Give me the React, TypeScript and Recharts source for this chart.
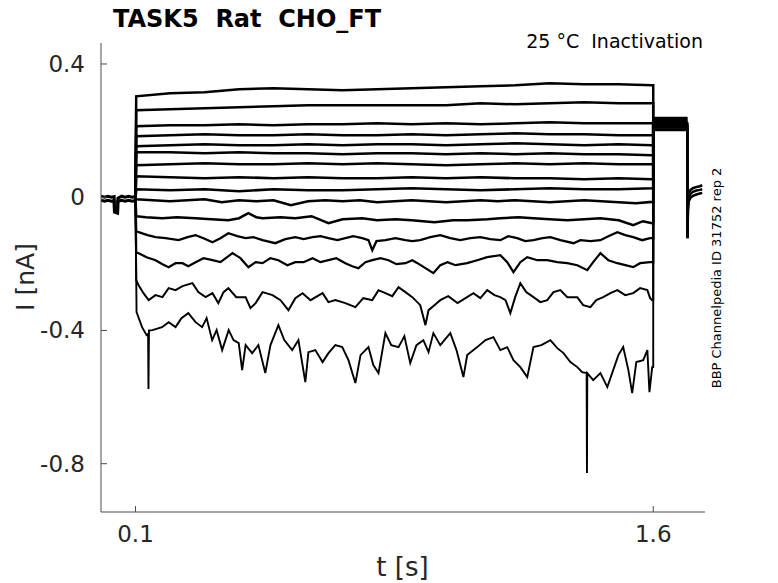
import React from 'react';
import { LineChart, Line, XAxis, YAxis } from 'recharts';

const TIME_TICKS = [0.1, 1.6];
const CURRENT_TICKS = [-0.8, -0.4, 0, 0.4];

const STEP_ON = 0.1;
const STEP_OFF = 1.6;
const TEST_END = 1.699;
const HOLD_LEVEL = -0.004;

// baseline before the step (two overlapping sweeps give the band)
const BASE_T = [0, 0.01, 0.02, 0.03, 0.038, 0.039, 0.048, 0.049, 0.06, 0.07, 0.08, 0.09, 0.1];
const BASE_A = [0.003, 0.0, 0.003, 0.0, 0.002, -0.045, -0.048, -0.003, 0.003, 0.0, 0.003, 0.0, 0.002];
const BASE_B = [-0.009, -0.012, -0.009, -0.012, -0.01, -0.04, -0.045, -0.012, -0.009, -0.012, -0.009, -0.012, -0.01];

// quiet sweeps, common time grid
const GRID_T = [0.102, 0.2, 0.3, 0.4, 0.5, 0.6, 0.7, 0.8, 0.9, 1.0, 1.1, 1.2, 1.3, 1.4, 1.5, 1.597];
const SWEEP_01 = [0.303, 0.312, 0.315, 0.324, 0.327, 0.324, 0.321, 0.324, 0.327, 0.33, 0.333, 0.336, 0.342, 0.339, 0.339, 0.336];
const SWEEP_02 = [0.261, 0.264, 0.267, 0.27, 0.273, 0.276, 0.276, 0.276, 0.276, 0.276, 0.282, 0.279, 0.282, 0.285, 0.282, 0.282];
const SWEEP_03 = [0.213, 0.216, 0.216, 0.219, 0.216, 0.219, 0.219, 0.222, 0.219, 0.222, 0.219, 0.222, 0.225, 0.222, 0.222, 0.222];
const SWEEP_04 = [0.183, 0.186, 0.189, 0.186, 0.186, 0.189, 0.186, 0.186, 0.189, 0.186, 0.189, 0.192, 0.189, 0.189, 0.186, 0.186];
const SWEEP_05 = [0.153, 0.156, 0.159, 0.156, 0.156, 0.159, 0.156, 0.159, 0.159, 0.156, 0.159, 0.162, 0.159, 0.156, 0.159, 0.156];
const SWEEP_06 = [0.135, 0.135, 0.132, 0.135, 0.132, 0.132, 0.129, 0.132, 0.132, 0.129, 0.132, 0.129, 0.132, 0.129, 0.129, 0.126];
const SWEEP_07 = [0.096, 0.099, 0.102, 0.099, 0.099, 0.102, 0.099, 0.102, 0.099, 0.096, 0.099, 0.102, 0.099, 0.102, 0.099, 0.099];
const SWEEP_08 = [0.063, 0.06, 0.057, 0.06, 0.057, 0.06, 0.057, 0.057, 0.06, 0.057, 0.06, 0.057, 0.057, 0.054, 0.057, 0.054];
const SWEEP_09 = [0.024, 0.021, 0.024, 0.018, 0.024, 0.021, 0.021, 0.024, 0.027, 0.024, 0.021, 0.024, 0.027, 0.024, 0.024, 0.027];

const SWEEP_10_T = [0.102, 0.15, 0.2, 0.25, 0.3, 0.35, 0.4, 0.45, 0.5, 0.55, 0.6, 0.65, 0.7, 0.75, 0.8, 0.85, 0.9, 0.95, 1.0, 1.05, 1.1, 1.15, 1.2, 1.25, 1.3, 1.35, 1.4, 1.45, 1.5, 1.55, 1.597];
const SWEEP_10 = [-0.006, -0.009, -0.012, -0.009, -0.006, -0.015, -0.009, -0.012, -0.009, -0.024, -0.012, -0.009, -0.012, -0.009, -0.015, -0.012, -0.009, -0.012, -0.015, -0.012, -0.009, -0.012, -0.009, -0.012, -0.015, -0.012, -0.009, -0.012, -0.015, -0.018, -0.014];

const SWEEP_11_T = [0.102, 0.13, 0.178, 0.22, 0.274, 0.32, 0.369, 0.4, 0.427, 0.45, 0.468, 0.52, 0.563, 0.61, 0.659, 0.7, 0.757, 0.8, 0.853, 0.9, 0.966, 1.02, 1.061, 1.12, 1.157, 1.21, 1.253, 1.3, 1.351, 1.4, 1.447, 1.5, 1.542, 1.57, 1.597];
const SWEEP_11 = [-0.057, -0.06, -0.063, -0.06, -0.063, -0.066, -0.069, -0.063, -0.048, -0.06, -0.063, -0.06, -0.063, -0.057, -0.078, -0.066, -0.063, -0.069, -0.066, -0.069, -0.075, -0.069, -0.069, -0.066, -0.063, -0.06, -0.063, -0.066, -0.069, -0.066, -0.063, -0.069, -0.084, -0.072, -0.078];

// noisy sweeps as [t, I] pairs
const SWEEP_12 = [[0.102,-0.102],[0.109,-0.105],[0.135,-0.114],[0.158,-0.12],[0.187,-0.123],[0.225,-0.129],[0.251,-0.12],[0.274,-0.114],[0.297,-0.123],[0.323,-0.135],[0.346,-0.123],[0.369,-0.108],[0.395,-0.117],[0.419,-0.123],[0.442,-0.12],[0.468,-0.129],[0.505,-0.138],[0.534,-0.126],[0.563,-0.12],[0.587,-0.126],[0.613,-0.12],[0.636,-0.117],[0.659,-0.123],[0.685,-0.129],[0.708,-0.123],[0.731,-0.117],[0.757,-0.123],[0.775,-0.129],[0.786,-0.159],[0.798,-0.132],[0.824,-0.129],[0.853,-0.123],[0.882,-0.129],[0.902,-0.132],[0.925,-0.129],[0.954,-0.12],[0.983,-0.114],[1.012,-0.123],[1.041,-0.129],[1.07,-0.123],[1.099,-0.12],[1.128,-0.126],[1.157,-0.129],[1.18,-0.117],[1.206,-0.123],[1.229,-0.132],[1.253,-0.129],[1.279,-0.123],[1.302,-0.12],[1.331,-0.129],[1.369,-0.138],[1.389,-0.129],[1.418,-0.132],[1.447,-0.129],[1.47,-0.117],[1.496,-0.105],[1.519,-0.114],[1.542,-0.12],[1.568,-0.129],[1.591,-0.123]];

const SWEEP_13 = [[0.102,-0.165],[0.109,-0.168],[0.132,-0.18],[0.158,-0.189],[0.178,-0.201],[0.196,-0.21],[0.216,-0.198],[0.236,-0.198],[0.253,-0.207],[0.274,-0.195],[0.297,-0.183],[0.323,-0.189],[0.346,-0.195],[0.381,-0.168],[0.404,-0.183],[0.427,-0.21],[0.448,-0.195],[0.468,-0.198],[0.491,-0.183],[0.514,-0.189],[0.54,-0.204],[0.563,-0.195],[0.587,-0.195],[0.613,-0.183],[0.636,-0.195],[0.659,-0.189],[0.682,-0.183],[0.708,-0.198],[0.728,-0.207],[0.746,-0.213],[0.766,-0.195],[0.786,-0.189],[0.81,-0.183],[0.833,-0.189],[0.856,-0.201],[0.882,-0.198],[0.902,-0.189],[0.917,-0.198],[0.94,-0.213],[0.963,-0.228],[0.983,-0.204],[1.004,-0.195],[1.027,-0.204],[1.061,-0.198],[1.09,-0.189],[1.119,-0.18],[1.157,-0.174],[1.177,-0.195],[1.195,-0.225],[1.215,-0.195],[1.235,-0.18],[1.264,-0.189],[1.293,-0.189],[1.322,-0.195],[1.351,-0.198],[1.38,-0.204],[1.409,-0.219],[1.426,-0.195],[1.447,-0.168],[1.47,-0.189],[1.496,-0.198],[1.519,-0.204],[1.542,-0.21],[1.562,-0.198],[1.591,-0.195]];

const SWEEP_14 = [[0.102,-0.249],[0.109,-0.264],[0.123,-0.288],[0.138,-0.309],[0.158,-0.294],[0.178,-0.3],[0.196,-0.273],[0.216,-0.279],[0.236,-0.267],[0.265,-0.258],[0.282,-0.285],[0.303,-0.3],[0.323,-0.288],[0.34,-0.318],[0.355,-0.285],[0.369,-0.273],[0.392,-0.3],[0.419,-0.3],[0.433,-0.333],[0.448,-0.318],[0.468,-0.285],[0.497,-0.294],[0.52,-0.309],[0.543,-0.339],[0.563,-0.303],[0.584,-0.288],[0.607,-0.309],[0.642,-0.288],[0.659,-0.315],[0.679,-0.309],[0.708,-0.318],[0.737,-0.33],[0.76,-0.303],[0.786,-0.309],[0.804,-0.279],[0.824,-0.288],[0.844,-0.297],[0.862,-0.27],[0.882,-0.285],[0.902,-0.3],[0.925,-0.324],[0.94,-0.384],[0.949,-0.339],[0.966,-0.324],[0.983,-0.309],[1.006,-0.297],[1.033,-0.318],[1.056,-0.303],[1.079,-0.288],[1.099,-0.303],[1.119,-0.279],[1.14,-0.294],[1.157,-0.3],[1.172,-0.309],[1.186,-0.348],[1.2,-0.3],[1.215,-0.258],[1.232,-0.285],[1.253,-0.3],[1.273,-0.315],[1.293,-0.309],[1.311,-0.285],[1.331,-0.279],[1.351,-0.3],[1.38,-0.3],[1.397,-0.324],[1.418,-0.33],[1.435,-0.309],[1.455,-0.3],[1.476,-0.288],[1.496,-0.279],[1.519,-0.294],[1.542,-0.288],[1.562,-0.273],[1.583,-0.279],[1.591,-0.303],[1.597,-0.309]];

const SWEEP_15 = [[0.103,-0.345],[0.119,-0.39],[0.132,-0.414],[0.1365,-0.41],[0.1375,-0.576],[0.139,-0.4],[0.149,-0.399],[0.177,-0.39],[0.196,-0.375],[0.216,-0.39],[0.233,-0.363],[0.253,-0.348],[0.274,-0.375],[0.293,-0.39],[0.306,-0.363],[0.322,-0.429],[0.335,-0.399],[0.351,-0.459],[0.37,-0.399],[0.384,-0.429],[0.399,-0.438],[0.409,-0.519],[0.419,-0.444],[0.438,-0.468],[0.456,-0.444],[0.476,-0.528],[0.491,-0.444],[0.514,-0.384],[0.531,-0.429],[0.554,-0.459],[0.572,-0.429],[0.592,-0.555],[0.601,-0.465],[0.621,-0.459],[0.642,-0.495],[0.659,-0.468],[0.679,-0.444],[0.699,-0.45],[0.717,-0.489],[0.737,-0.558],[0.752,-0.474],[0.775,-0.45],[0.789,-0.504],[0.804,-0.528],[0.824,-0.408],[0.841,-0.444],[0.862,-0.45],[0.879,-0.417],[0.896,-0.498],[0.914,-0.444],[0.934,-0.429],[0.949,-0.465],[0.963,-0.408],[0.983,-0.444],[1.012,-0.408],[1.03,-0.459],[1.05,-0.54],[1.061,-0.474],[1.09,-0.45],[1.114,-0.429],[1.137,-0.42],[1.157,-0.459],[1.177,-0.45],[1.195,-0.489],[1.215,-0.51],[1.235,-0.54],[1.253,-0.45],[1.276,-0.444],[1.302,-0.429],[1.322,-0.453],[1.34,-0.468],[1.36,-0.495],[1.38,-0.51],[1.394,-0.525],[1.407,-0.528],[1.408,-0.828],[1.409,-0.528],[1.426,-0.549],[1.447,-0.528],[1.467,-0.57],[1.484,-0.519],[1.499,-0.474],[1.513,-0.45],[1.528,-0.519],[1.539,-0.588],[1.551,-0.495],[1.571,-0.489],[1.583,-0.459],[1.589,-0.585],[1.597,-0.51]];

// test-pulse level of each sweep (1.6 s – 1.7 s)
const POST_LEVELS = [0.238, 0.233, 0.236, 0.228, 0.225, 0.229, 0.221, 0.218, 0.222, 0.214, 0.216, 0.209, 0.211, 0.204, 0.201];

// tail after the test pulse
const TAIL_T = [1.699, 1.6995, 1.7005, 1.703, 1.708, 1.715, 1.725, 1.735, 1.742];
const TAIL_HI = [0.225, -0.12, -0.01, 0.012, 0.022, 0.027, 0.031, 0.033, 0.036];
const TAIL_MID = [0.218, -0.123, -0.025, 0.0, 0.01, 0.016, 0.02, 0.022, 0.024];
const TAIL_LO = [0.21, -0.123, -0.04, -0.012, -0.002, 0.004, 0.008, 0.011, 0.013];

type Pt = { t: number; v: number };

const zipSeries = (ts: number[], vs: number[]): Pt[] => ts.map((t, i) => ({ t, v: vs[i] }));
const pairSeries = (pairs: number[][]): Pt[] => pairs.map(([t, v]) => ({ t, v }));

const sweep = (pts: Pt[], post: number): Pt[] => [
  { t: STEP_ON, v: HOLD_LEVEL },
  ...pts,
  { t: STEP_OFF, v: pts[pts.length - 1].v },
  { t: STEP_OFF, v: post },
  { t: TEST_END, v: post },
];

const SWEEPS: { pts: Pt[]; w: number }[] = [
  { pts: zipSeries(GRID_T, SWEEP_01), w: 2.5 },
  { pts: zipSeries(GRID_T, SWEEP_02), w: 2.5 },
  { pts: zipSeries(GRID_T, SWEEP_03), w: 2.5 },
  { pts: zipSeries(GRID_T, SWEEP_04), w: 2.5 },
  { pts: zipSeries(GRID_T, SWEEP_05), w: 2.5 },
  { pts: zipSeries(GRID_T, SWEEP_06), w: 2.5 },
  { pts: zipSeries(GRID_T, SWEEP_07), w: 2.5 },
  { pts: zipSeries(GRID_T, SWEEP_08), w: 2.6 },
  { pts: zipSeries(GRID_T, SWEEP_09), w: 2.6 },
  { pts: zipSeries(SWEEP_10_T, SWEEP_10), w: 2.6 },
  { pts: zipSeries(SWEEP_11_T, SWEEP_11), w: 2.5 },
  { pts: pairSeries(SWEEP_12), w: 2.3 },
  { pts: pairSeries(SWEEP_13), w: 2.2 },
  { pts: pairSeries(SWEEP_14), w: 2.0 },
  { pts: pairSeries(SWEEP_15), w: 1.9 },
];

const AXIS_COLOR = '#4d4d4d';
const TEXT_COLOR = '#262626';
const FONT = 'DejaVu Sans';

const fmt = (v: number) => String(v);

const YTick = (props: any) => {
  const { x, y, payload } = props;
  return (
    <g>
      <line x1={x} x2={x + 6} y1={y} y2={y} stroke={AXIS_COLOR} strokeWidth={1} />
      <text x={x - 16} y={y + 8} textAnchor="end" fontSize={23} fill={TEXT_COLOR} fontFamily={FONT}>
        {fmt(payload.value)}
      </text>
    </g>
  );
};

const XTick = (props: any) => {
  const { x, y, payload } = props;
  return (
    <g>
      <line x1={x} x2={x} y1={y} y2={y - 6} stroke={AXIS_COLOR} strokeWidth={1} />
      <text x={x} y={y + 30} textAnchor="middle" fontSize={23} fill={TEXT_COLOR} fontFamily={FONT}>
        {fmt(payload.value)}
      </text>
    </g>
  );
};

export default function App() {
  return (
    <div style={{ position: 'absolute', left: 0, top: 0, width: 778, height: 583, background: '#fff' }}>
      <LineChart width={778} height={583} margin={{ top: 43, right: 73, bottom: 31, left: 41 }}>
        <XAxis
          dataKey="t"
          type="number"
          domain={[0, 1.75]}
          ticks={TIME_TICKS}
          allowDataOverflow
          height={40}
          tickSize={0}
          tickMargin={0}
          tickLine={false}
          axisLine={{ stroke: AXIS_COLOR, strokeWidth: 1 }}
          tick={<XTick />}
        />
        <YAxis
          type="number"
          domain={[-0.945, 0.463]}
          ticks={CURRENT_TICKS}
          allowDataOverflow
          width={60}
          tickSize={0}
          tickMargin={0}
          tickLine={false}
          axisLine={{ stroke: AXIS_COLOR, strokeWidth: 1 }}
          tick={<YTick />}
        />
        <Line data={zipSeries(BASE_T, BASE_A)} dataKey="v" stroke="#000" strokeWidth={3} dot={false} isAnimationActive={false} />
        <Line data={zipSeries(BASE_T, BASE_B)} dataKey="v" stroke="#000" strokeWidth={3} dot={false} isAnimationActive={false} />
        {SWEEPS.map((s, i) => (
          <Line
            key={i}
            data={sweep(s.pts, POST_LEVELS[i])}
            dataKey="v"
            stroke="#000"
            strokeWidth={s.w}
            strokeLinejoin="miter"
            dot={false}
            isAnimationActive={false}
          />
        ))}
        <Line data={zipSeries(TAIL_T, TAIL_HI)} dataKey="v" stroke="#000" strokeWidth={2.5} dot={false} isAnimationActive={false} />
        <Line data={zipSeries(TAIL_T, TAIL_MID)} dataKey="v" stroke="#000" strokeWidth={2.5} dot={false} isAnimationActive={false} />
        <Line data={zipSeries(TAIL_T, TAIL_LO)} dataKey="v" stroke="#000" strokeWidth={2.5} dot={false} isAnimationActive={false} />
      </LineChart>
      <svg width={778} height={583} style={{ position: 'absolute', left: 0, top: 0, pointerEvents: 'none' }}>
        <text x={113} y={27} fontSize={24} fontWeight="bold" fill="#000" fontFamily={FONT} xmlSpace="preserve">
          TASK5  Rat  CHO_FT
        </text>
        <text x={703} y={48} fontSize={19} textAnchor="end" fill="#000" fontFamily={FONT} xmlSpace="preserve">
          25 °C  Inactivation
        </text>
        <text transform="translate(721,278) rotate(-90)" fontSize={13} textAnchor="middle" fill="#000" fontFamily={FONT}>
          BBP Channelpedia ID 31752 rep 2
        </text>
        <text x={402.5} y={576} fontSize={26} textAnchor="middle" fill={TEXT_COLOR} fontFamily={FONT}>
          t [s]
        </text>
        <text transform="translate(33.5,277) rotate(-90)" fontSize={25} textAnchor="middle" fill={TEXT_COLOR} fontFamily={FONT}>
          I [nA]
        </text>
      </svg>
    </div>
  );
}
